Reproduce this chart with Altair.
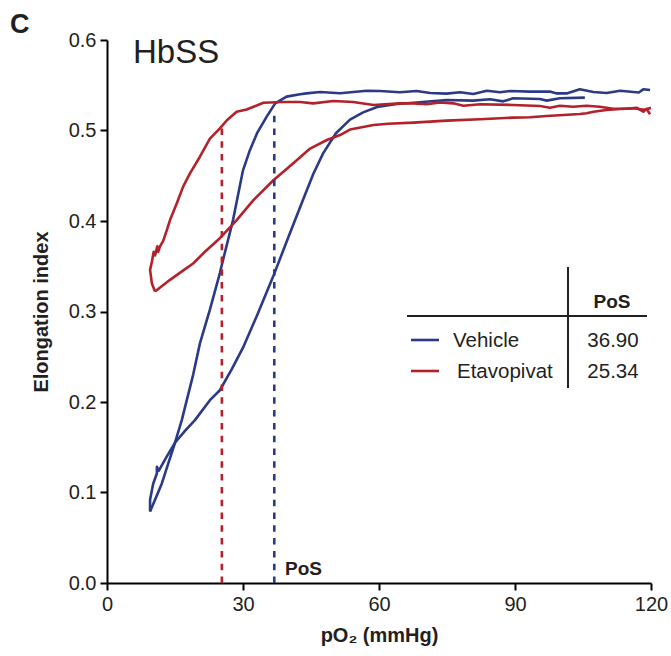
import altair as alt
import pandas as pd

# ---------------- data ----------------
series_names = ["Vehicle", "Etavopivat"]
pos_values = [36.90, 25.34]          # point of sickling (mmHg)
pos_ei = [0.523, 0.504]              # EI where the PoS marker meets the curve

# Vehicle - deoxygenation (high pO2 -> low pO2)
veh_deox_x = [119.8, 118.3, 117.3, 116.1, 113.2, 110.2, 107.3, 104.3, 101.4, 99.2, 97.7, 93.3, 88.9, 86.7,
              83.8, 80.8, 77.9, 74.9, 71.3, 68.3, 64.6, 60.2, 57.3, 51.4, 47.0, 44.0, 42.6, 39.6, 37.1, 35.2,
              33.1, 31.5, 30.0, 27.8, 25.6, 24.9, 22.7, 20.5, 19.0, 17.6, 16.5, 15.0, 13.5, 12.1, 10.6, 9.5]
veh_deox_y = [0.5448, 0.5455, 0.542, 0.5425, 0.544, 0.5415, 0.5425, 0.5455, 0.541, 0.541, 0.543, 0.543, 0.5436, 0.5422,
              0.544, 0.5403, 0.5422, 0.5407, 0.5414, 0.5436, 0.5422, 0.5436, 0.544, 0.5411, 0.5425, 0.541, 0.540, 0.5374, 0.530, 0.515,
              0.497, 0.478, 0.456, 0.401, 0.357, 0.3425, 0.302, 0.2648, 0.230, 0.202, 0.180, 0.155, 0.132, 0.110, 0.092, 0.079]

# Vehicle - reoxygenation (low pO2 -> high pO2)
veh_reox_x = [9.5, 9.5, 10.2, 11.0, 11.0, 11.4, 13.2, 15.0, 17.2, 19.4, 22.7, 24.9, 27.5, 30.0, 33.3, 36.6, 40.0,
              43.2, 45.5, 47.7, 50.5, 53.6, 56.5, 59.6, 63.9, 67.6, 74.9, 80.8, 84.5, 87.4, 89.6, 95.5, 97.0, 99.9, 105.4]
veh_reox_y = [0.079, 0.092, 0.110, 0.121, 0.1285, 0.124, 0.140, 0.155, 0.168, 0.180, 0.202, 0.213, 0.236, 0.260, 0.298, 0.338, 0.382,
              0.423, 0.452, 0.475, 0.497, 0.512, 0.520, 0.526, 0.5293, 0.5307, 0.5337, 0.533, 0.5345, 0.5322, 0.5356, 0.5348, 0.533, 0.5356, 0.5363]

# Etavopivat - deoxygenation
eta_deox_x = [119.8, 119.0, 118.3, 116.8, 114.6, 111.7, 108.7, 105.8, 102.8, 99.9, 97.7, 95.5, 89.6, 82.3, 78.6, 76.4,
              73.5, 70.5, 67.6, 64.6, 58.8, 54.3, 49.9, 45.5, 42.6, 38.9, 34.5, 32.2, 30.8, 28.6, 26.5, 24.9, 22.7,
              20.5, 18.3, 16.8, 15.4, 13.9, 13.2, 12.4, 11.7, 11.3, 11.1, 10.6, 10.3, 9.9, 9.5, 9.9, 10.6]
eta_deox_y = [0.5179, 0.5237, 0.5208, 0.5252, 0.5241, 0.5241, 0.5263, 0.5274, 0.5263, 0.5274, 0.5252, 0.527, 0.5282, 0.529, 0.5274, 0.530,
              0.5311, 0.529, 0.530, 0.530, 0.5282, 0.5315, 0.5326, 0.530, 0.5315, 0.5315, 0.5307, 0.526, 0.5233, 0.5208, 0.5116, 0.5024, 0.491,
              0.471, 0.4527, 0.438, 0.4196, 0.401, 0.390, 0.378, 0.372, 0.366, 0.372, 0.362, 0.366, 0.355, 0.346, 0.331, 0.322]

# Etavopivat - reoxygenation
eta_reox_x = [10.6, 13.9, 17.0, 19.0, 21.6, 24.9, 28.6, 32.3, 36.7, 41.1, 44.8, 48.5, 51.4, 53.6, 58.8, 62.0, 67.6,
              74.9, 82.3, 89.6, 93.3, 97.0, 100.7, 104.3, 105.8, 107.3, 110.2, 113.2, 116.1, 118.5, 120.0]
eta_reox_y = [0.322, 0.335, 0.346, 0.353, 0.366, 0.381, 0.401, 0.423, 0.445, 0.4637, 0.480, 0.4895, 0.495, 0.501, 0.506, 0.5075, 0.5087,
              0.5109, 0.5124, 0.5142, 0.5146, 0.516, 0.5171, 0.5182, 0.519, 0.5208, 0.5227, 0.5238, 0.5245, 0.523, 0.525]

x_ticks = [0, 30, 60, 90, 120]
y_ticks = [0.0, 0.1, 0.2, 0.3, 0.4, 0.5, 0.6]

# ---------------- build tables ----------------
rows = []
def add(series, seg, xs, ys):
    for i, (xv, yv) in enumerate(zip(xs, ys)):
        rows.append(dict(series=series, seg=seg, order=i, x=xv, y=yv))

add("Vehicle", "veh_deox", veh_deox_x, veh_deox_y)
add("Vehicle", "veh_reox", veh_reox_x, veh_reox_y)
add("Etavopivat", "eta_deox", eta_deox_x, eta_deox_y)
add("Etavopivat", "eta_reox", eta_reox_x, eta_reox_y)
curves = pd.DataFrame(rows)

pos_df = pd.DataFrame({"series": series_names, "x": pos_values, "y0": [0, 0], "y1": pos_ei})

BLUE = "#2b3a85"
RED = "#b3212a"
FONT = "Liberation Sans"
TXT = "#231f20"

color = alt.Color("series:N", scale=alt.Scale(domain=series_names, range=[BLUE, RED]), legend=None)
xenc = alt.X("x:Q", scale=alt.Scale(domain=[0, 120], nice=False),
             axis=alt.Axis(values=x_ticks, title="pO₂ (mmHg)", format="d"))
yenc = alt.Y("y:Q", scale=alt.Scale(domain=[0, 0.6], nice=False),
             axis=alt.Axis(values=y_ticks, title="Elongation index", format=".1f"))

lines = alt.Chart(curves).mark_line(strokeWidth=2.6, strokeJoin="round").encode(
    x=xenc, y=yenc, color=color, detail="seg:N", order="order:Q")

pos_rules = alt.Chart(pos_df).mark_rule(strokeWidth=2.6, strokeDash=[6.5, 6.3]).encode(
    x="x:Q", y="y0:Q", y2="y1:Q", color=color)

def text_layer(txt, x, y, size, bold=False, align="left"):
    return alt.Chart(pd.DataFrame({"t": [txt]})).mark_text(
        font=FONT, fontSize=size, fontWeight="bold" if bold else "normal",
        align=align, baseline="middle", color=TXT
    ).encode(text="t:N", x=alt.value(x), y=alt.value(y))

def rule_layer(x1, x2, y1, y2, col="#231f20", w=2):
    return alt.Chart(pd.DataFrame({"a": [0]})).mark_rule(color=col, strokeWidth=w).encode(
        x=alt.value(x1), x2=alt.value(x2), y=alt.value(y1), y2=alt.value(y2))

layers = [lines, pos_rules]
layers.append(text_layer("C", -97, -15, 27, bold=True))
layers.append(text_layer("HbSS", 26, 13, 33))
layers.append(text_layer("PoS", 178, 529, 19, bold=True))

# legend table
layers.append(rule_layer(461, 461, 227, 348))
layers.append(rule_layer(300, 540, 276, 276))
layers.append(text_layer("PoS", 505, 262, 19, bold=True, align="center"))
row_y = [300, 331]
label_x = [346, 350]
for i, name in enumerate(series_names):
    col = [BLUE, RED][i]
    layers.append(rule_layer(304, 332, row_y[i], row_y[i], col=col, w=2.6))
    layers.append(text_layer(name, label_x[i], row_y[i] + 1, 20.5))
    layers.append(text_layer(f"{pos_values[i]:.2f}", 506, row_y[i] + 1, 20.5, align="center"))

chart = alt.layer(*layers).properties(
    width=544, height=543,
    autosize=alt.AutoSizeParams(type="none"),
    padding={"left": 107, "top": 40, "right": 20, "bottom": 73},
).configure_view(strokeWidth=0).configure_axis(
    grid=False, domainColor="#000000", domainWidth=2, tickColor="#000000", tickWidth=2, tickSize=7,
    labelFont=FONT, labelFontSize=20, labelColor=TXT, labelPadding=4, labelFlush=False,
    titleFont=FONT, titleFontSize=20, titleFontWeight="bold", titleColor=TXT,
).configure_axisX(titlePadding=11).configure_axisY(titlePadding=17)

chart.save("out.html", embed_options={"renderer": "svg", "actions": False})
